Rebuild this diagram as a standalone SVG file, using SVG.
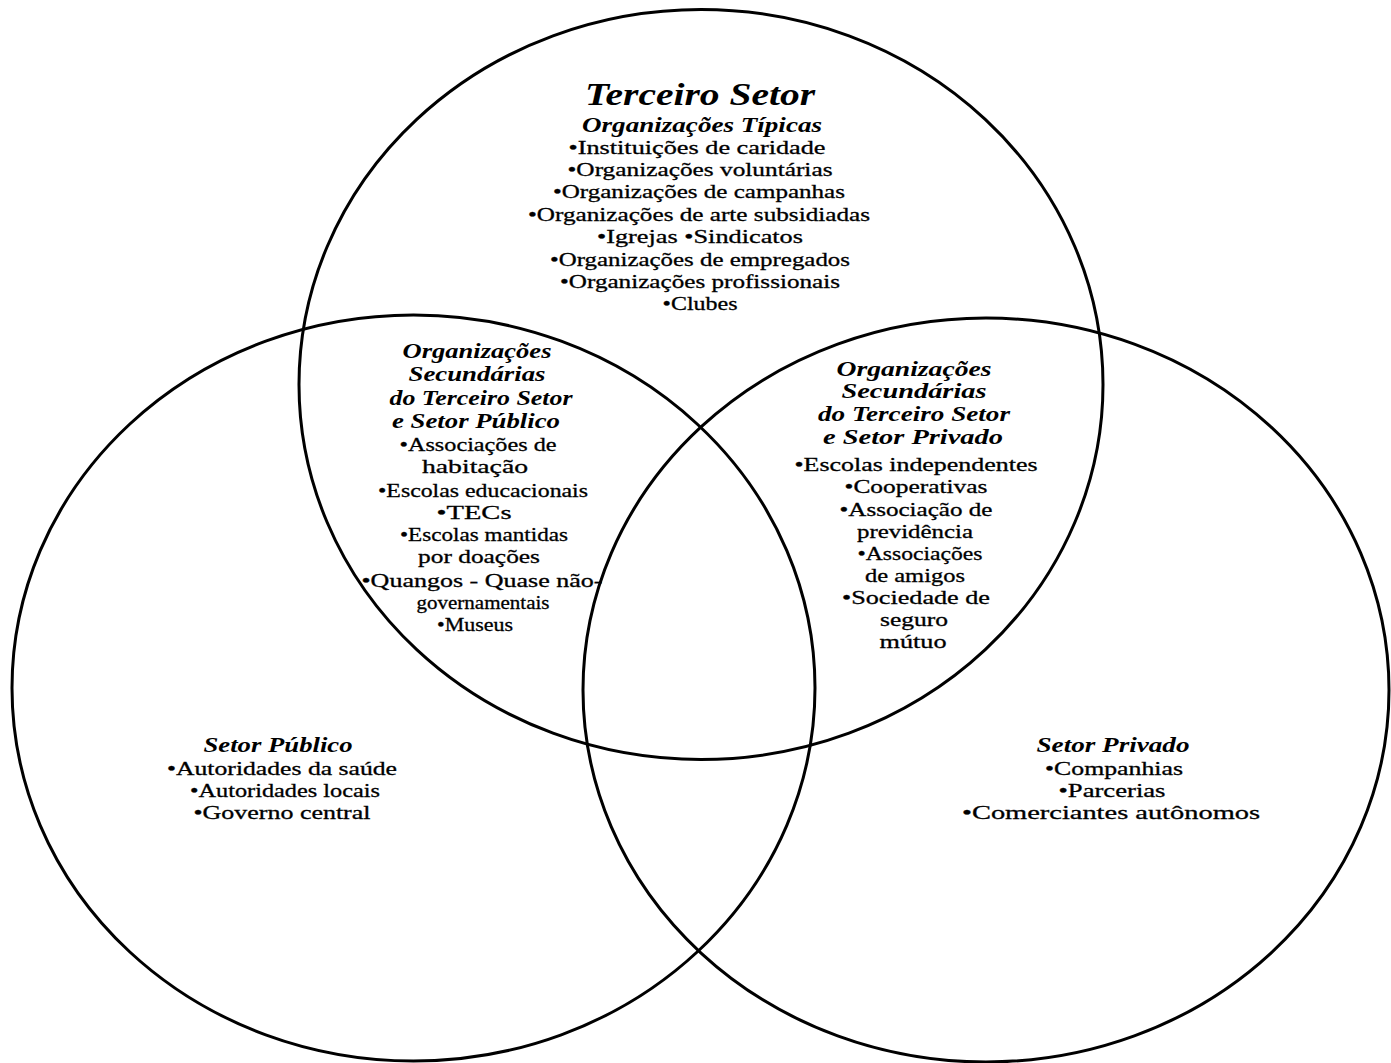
<svg xmlns="http://www.w3.org/2000/svg" width="1391" height="1063" viewBox="0 0 1391 1063">
  <style>
    .ring { fill: none; stroke: #000; stroke-width: 3; }
    text { font-family: "Liberation Serif", "Times New Roman", serif; fill: #000; text-anchor: middle; stroke: #000; stroke-width: 0.3; }
    .title { font-size: 32px; font-style: italic; font-weight: bold; stroke-width: 0; }
    .head { font-size: 20px; font-style: italic; font-weight: bold; stroke-width: 0; }
    .item { font-size: 19px; }
  </style>
  <rect width="1391" height="1063" fill="#fff"/>

  <!-- the three overlapping sectors -->
  <g id="sectors">
    <ellipse id="ring-third" class="ring" cx="701" cy="384.5" rx="402" ry="375"/>
    <ellipse id="ring-public" class="ring" cx="413.5" cy="688" rx="401.5" ry="373"/>
    <ellipse id="ring-private" class="ring" cx="986" cy="690" rx="403" ry="372"/>
  </g>

  <g id="connectors"/>

  <!-- Third sector: typical organisations -->
  <g id="terceiro-setor">
    <text class="title" x="700" y="105" textLength="230" lengthAdjust="spacingAndGlyphs">Terceiro Setor</text>
    <text class="head" x="702" y="132" textLength="240" lengthAdjust="spacingAndGlyphs">Organizações Típicas</text>
    <text class="item" x="697" y="154" textLength="257" lengthAdjust="spacingAndGlyphs">•Instituições de caridade</text>
    <text class="item" x="700" y="176" textLength="265" lengthAdjust="spacingAndGlyphs">•Organizações voluntárias</text>
    <text class="item" x="699" y="198" textLength="292" lengthAdjust="spacingAndGlyphs">•Organizações de campanhas</text>
    <text class="item" x="699" y="221" textLength="342" lengthAdjust="spacingAndGlyphs">•Organizações de arte subsidiadas</text>
    <text class="item" x="700" y="243" textLength="206" lengthAdjust="spacingAndGlyphs">•Igrejas  •Sindicatos</text>
    <text class="item" x="700" y="266" textLength="300" lengthAdjust="spacingAndGlyphs">•Organizações de empregados</text>
    <text class="item" x="700" y="288" textLength="280" lengthAdjust="spacingAndGlyphs">•Organizações profissionais</text>
    <text class="item" x="700" y="310" textLength="75" lengthAdjust="spacingAndGlyphs">•Clubes</text>
  </g>

  <!-- overlap: third sector and public sector -->
  <g id="terceiro-publico">
    <text class="head" x="477" y="358" textLength="149" lengthAdjust="spacingAndGlyphs">Organizações</text>
    <text class="head" x="477" y="381" textLength="137" lengthAdjust="spacingAndGlyphs">Secundárias</text>
    <text class="head" x="481" y="405" textLength="183" lengthAdjust="spacingAndGlyphs">do Terceiro Setor</text>
    <text class="head" x="476" y="428" textLength="168" lengthAdjust="spacingAndGlyphs">e Setor Público</text>
    <text class="item" x="478" y="451" textLength="157" lengthAdjust="spacingAndGlyphs">•Associações de</text>
    <text class="item" x="475" y="473" textLength="106" lengthAdjust="spacingAndGlyphs">habitação</text>
    <text class="item" x="483" y="497" textLength="210" lengthAdjust="spacingAndGlyphs">•Escolas educacionais</text>
    <text class="item" x="474" y="519" textLength="75" lengthAdjust="spacingAndGlyphs">•TECs</text>
    <text class="item" x="484" y="541" textLength="168" lengthAdjust="spacingAndGlyphs">•Escolas mantidas</text>
    <text class="item" x="479" y="563" textLength="122" lengthAdjust="spacingAndGlyphs">por doações</text>
    <text class="item" x="482" y="587" textLength="241" lengthAdjust="spacingAndGlyphs">•Quangos - Quase não-</text>
    <text class="item" x="483" y="609" textLength="133" lengthAdjust="spacingAndGlyphs">governamentais</text>
    <text class="item" x="475" y="631" textLength="76" lengthAdjust="spacingAndGlyphs">•Museus</text>
  </g>

  <!-- overlap: third sector and private sector -->
  <g id="terceiro-privado">
    <text class="head" x="914" y="376" textLength="155" lengthAdjust="spacingAndGlyphs">Organizações</text>
    <text class="head" x="914" y="398" textLength="145" lengthAdjust="spacingAndGlyphs">Secundárias</text>
    <text class="head" x="914" y="421" textLength="192" lengthAdjust="spacingAndGlyphs">do Terceiro Setor</text>
    <text class="head" x="913" y="444" textLength="180" lengthAdjust="spacingAndGlyphs">e Setor Privado</text>
    <text class="item" x="916" y="471" textLength="243" lengthAdjust="spacingAndGlyphs">•Escolas independentes</text>
    <text class="item" x="916" y="493" textLength="143" lengthAdjust="spacingAndGlyphs">•Cooperativas</text>
    <text class="item" x="916" y="516" textLength="153" lengthAdjust="spacingAndGlyphs">•Associação de</text>
    <text class="item" x="915" y="538" textLength="116" lengthAdjust="spacingAndGlyphs">previdência</text>
    <text class="item" x="920" y="560" textLength="125" lengthAdjust="spacingAndGlyphs">•Associações</text>
    <text class="item" x="915" y="582" textLength="100" lengthAdjust="spacingAndGlyphs">de amigos</text>
    <text class="item" x="916" y="604" textLength="148" lengthAdjust="spacingAndGlyphs">•Sociedade de</text>
    <text class="item" x="914" y="626" textLength="68" lengthAdjust="spacingAndGlyphs">seguro</text>
    <text class="item" x="913" y="648" textLength="67" lengthAdjust="spacingAndGlyphs">mútuo</text>
  </g>

  <!-- public sector -->
  <g id="setor-publico">
    <text class="head" x="278" y="752" textLength="149" lengthAdjust="spacingAndGlyphs">Setor Público</text>
    <text class="item" x="282" y="775" textLength="230" lengthAdjust="spacingAndGlyphs">•Autoridades da saúde</text>
    <text class="item" x="285" y="797" textLength="190" lengthAdjust="spacingAndGlyphs">•Autoridades locais</text>
    <text class="item" x="282" y="819" textLength="177" lengthAdjust="spacingAndGlyphs">•Governo central</text>
  </g>

  <!-- private sector -->
  <g id="setor-privado">
    <text class="head" x="1113" y="752" textLength="153" lengthAdjust="spacingAndGlyphs">Setor Privado</text>
    <text class="item" x="1114" y="775" textLength="138" lengthAdjust="spacingAndGlyphs">•Companhias</text>
    <text class="item" x="1112" y="797" textLength="107" lengthAdjust="spacingAndGlyphs">•Parcerias</text>
    <text class="item" x="1111" y="819" textLength="298" lengthAdjust="spacingAndGlyphs">•Comerciantes autônomos</text>
  </g>
</svg>
